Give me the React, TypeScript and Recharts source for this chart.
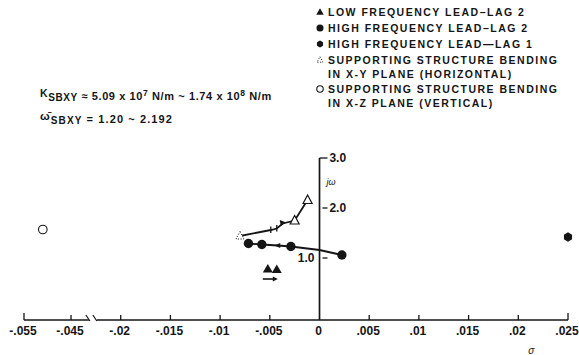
import React from 'react';
import { ComposedChart, Line, Scatter, XAxis, YAxis, ReferenceLine, ReferenceDot } from 'recharts';

const W = 579;
const H = 355;
const INK = '#151515';
const FONT = '"Liberation Sans", Arial, Helvetica, sans-serif';

// ---- axis ticks (real sigma values) and printed labels ----
const xTickValues = [-0.055, -0.045, -0.02, -0.015, -0.01, -0.005, 0, 0.005, 0.01, 0.015, 0.02, 0.025];
const xTickLabels = ['-.055', '-.045', '-.02', '-.015', '-.01', '-.005', '0', '.005', '.01', '.015', '.02', '.025'];
const yTickValues = [1, 2, 3];
const yTickLabels = ['1.0', '2.0', '3.0'];
const Y_AXIS_BASE = -0.24; // level where the sigma axis is drawn

// ---- series ----
// LOW FREQUENCY LEAD-LAG 2 (filled triangles) + direction arrow
const lowLL2X = [-0.0052, -0.0043];
const lowLL2Y = [0.78, 0.77];
const lowLL2ArrowX = [-0.0049];
const lowLL2ArrowY = [0.58];

// HIGH FREQUENCY LEAD-LAG 2 (filled circles)
const highLL2X = [-0.00715, -0.0058, -0.0042, -0.00288, 0, 0.00225];
const highLL2Y = [1.29, 1.27, 1.25, 1.23, 1.16, 1.06];
const highLL2Mark = ['dot', 'dot', 'arrowL', 'dot', 'none', 'dot'];

// HIGH FREQUENCY LEAD-LAG 1 (filled hexagon)
const highLL1X = [0.025];
const highLL1Y = [1.42];

// SUPPORTING STRUCTURE BENDING IN X-Y PLANE (open triangles)
const xyX = [-0.008, -0.0049, -0.0043, -0.0037, -0.0025, -0.0012];
const xyY = [1.44, 1.56, 1.59, 1.69, 1.75, 2.16];
const xyMark = ['triFaint', 'tick', 'tick', 'arrowR', 'tri', 'tri'];

// SUPPORTING STRUCTURE BENDING IN X-Z PLANE (open circle)
const xzX = [-0.051];
const xzY = [1.57];

// ---- legend / annotation text ----
const legendMarks = ['triFill', 'dot', 'hex', 'triFaint', 'circOpen'];
const legendLines = [
  ['LOW FREQUENCY LEAD\u2013LAG 2'],
  ['HIGH FREQUENCY LEAD\u2013LAG 2'],
  ['HIGH FREQUENCY LEAD\u2014LAG 1'],
  ['SUPPORTING STRUCTURE BENDING', 'IN X-Y PLANE (HORIZONTAL)'],
  ['SUPPORTING STRUCTURE BENDING', 'IN X-Z PLANE (VERTICAL)'],
];

// ---- broken axis: compressed left segment ----
const LEFT_ANCHOR_X = -0.045;
const LEFT_ANCHOR_U = -0.025;
const LEFT_SCALE = 0.473;
const toU = (x: number) => (x <= -0.03 ? LEFT_ANCHOR_U + (x - LEFT_ANCHOR_X) * LEFT_SCALE : x);
const U_MIN = toU(-0.055);
const U_MAX = 0.025;
const BREAK_L = toU(-0.0412);
const BREAK_R = -0.0224;
const tickU = xTickValues.map(toU);

const lowLL2Data = [
  ...lowLL2X.map((x, i) => ({ u: toU(x), y: lowLL2Y[i], kind: 'triFill' })),
  ...lowLL2ArrowX.map((x, i) => ({ u: toU(x), y: lowLL2ArrowY[i], kind: 'arrowLine' })),
];
const highLL2Data = highLL2X.map((x, i) => ({ u: toU(x), y: highLL2Y[i], kind: highLL2Mark[i] }));
const highLL1Data = highLL1X.map((x, i) => ({ u: toU(x), y: highLL1Y[i], kind: 'hex' }));
const xyData = xyX.map((x, i) => ({ u: toU(x), y: xyY[i], kind: xyMark[i] }));
const xzData = xzX.map((x, i) => ({ u: toU(x), y: xzY[i], kind: 'circOpen' }));

const TICK_MARGIN = 6;

function Marker({ kind, cx, cy, s = 1 }: { kind: string; cx: number; cy: number; s?: number }) {
  if (cx == null || cy == null) return <g />;
  switch (kind) {
    case 'dot':
      return <circle cx={cx} cy={cy} r={4.7 * s} fill={INK} />;
    case 'hex': {
      const r = 4.7 * s;
      const pts = [0, 1, 2, 3, 4, 5]
        .map((k) => {
          const a = (Math.PI / 3) * k + Math.PI / 6;
          return `${cx + r * Math.cos(a)},${cy + r * Math.sin(a)}`;
        })
        .join(' ');
      return <polygon points={pts} fill={INK} />;
    }
    case 'circOpen':
      return <circle cx={cx} cy={cy} r={4.3 * s} fill="#fff" stroke={INK} strokeWidth={1.1} />;
    case 'tri':
      return (
        <polygon
          points={`${cx},${cy - 5 * s} ${cx + 4.5 * s},${cy + 3.5 * s} ${cx - 4.5 * s},${cy + 3.5 * s}`}
          fill="#fff"
          stroke={INK}
          strokeWidth={1.2}
        />
      );
    case 'triFaint':
      return (
        <polygon
          points={`${cx},${cy - 4.5 * s} ${cx + 4 * s},${cy + 3 * s} ${cx - 4 * s},${cy + 3 * s}`}
          fill="#fff"
          stroke={INK}
          strokeWidth={0.9}
          strokeDasharray="1.2 1.5"
        />
      );
    case 'triFill':
      return (
        <polygon
          points={`${cx},${cy - 5 * s} ${cx + 5 * s},${cy + 3.5 * s} ${cx - 5 * s},${cy + 3.5 * s}`}
          fill={INK}
        />
      );
    case 'tick':
      return <line x1={cx} x2={cx} y1={cy - 3.5} y2={cy + 3} stroke={INK} strokeWidth={1.3} />;
    case 'arrowR':
      return <polygon points={`${cx + 3.5},${cy - 1} ${cx - 3},${cy - 3.5} ${cx - 2},${cy + 2.5}`} fill={INK} />;
    case 'arrowL':
      return <polygon points={`${cx - 3.5},${cy} ${cx + 2.5},${cy - 2.5} ${cx + 2.5},${cy + 2.5}`} fill={INK} />;
    case 'arrowLine':
      return (
        <g>
          <line x1={cx - 8} x2={cx + 3} y1={cy} y2={cy} stroke={INK} strokeWidth={1.6} />
          <polygon points={`${cx + 7},${cy} ${cx + 2},${cy - 2.5} ${cx + 2},${cy + 2.5}`} fill={INK} />
        </g>
      );
    default:
      return <g />;
  }
}

const XTick = (props: any) => {
  const { x, y, payload } = props;
  const i = tickU.findIndex((t) => Math.abs(t - payload.value) < 1e-9);
  if (i < 0) return <g />;
  const axisY = y - TICK_MARGIN;
  const isEnd = i === 0 || i === tickU.length - 1;
  const isZero = xTickValues[i] === 0;
  return (
    <g>
      {!isZero && (
        <line x1={x} x2={x} y1={axisY} y2={axisY - (isEnd ? 7 : 5)} stroke={INK} strokeWidth={1.3} />
      )}
      <text
        x={x - 1}
        y={y}
        dy="0.71em"
        textAnchor="middle"
        fill={INK}
        fontFamily={FONT}
        fontSize={12}
        fontWeight={700}
      >
        {xTickLabels[i]}
      </text>
    </g>
  );
};

const textLabel =
  (txt: string, anchor: 'start' | 'end' | 'middle', dx: number, opts: any = {}) =>
  (props: any) => {
    const vb = props.viewBox || {};
    return (
      <text
        x={vb.x + dx}
        y={vb.y}
        textAnchor={anchor}
        dominantBaseline="central"
        fill={INK}
        fontFamily={FONT}
        fontSize={opts.fontSize || 12}
        fontWeight={opts.fontWeight || 700}
        fontStyle={opts.fontStyle || 'normal'}
      >
        {txt}
      </text>
    );
  };

const yLabelSide = ['left', 'right', 'right'];

export default function App() {
  const lineProps = { stroke: INK, strokeWidth: 1.8, isAnimationActive: false, activeDot: false as any, type: 'linear' as const };
  return (
    <div style={{ position: 'absolute', left: 0, top: 0, width: W, height: H, background: '#fff' }}>
      <ComposedChart width={W} height={H} margin={{ top: 158, right: 11, bottom: 0, left: 24 }}>
        <XAxis
          type="number"
          dataKey="u"
          domain={[U_MIN, U_MAX]}
          ticks={tickU}
          interval={0}
          height={35}
          axisLine={false}
          tickLine={false}
          tickSize={0}
          tickMargin={TICK_MARGIN}
          tick={<XTick />}
        />
        <YAxis type="number" dataKey="y" domain={[Y_AXIS_BASE, 3]} hide />

        {/* x axis line with break */}
        <ReferenceLine segment={[{ x: U_MIN, y: Y_AXIS_BASE }, { x: BREAK_L, y: Y_AXIS_BASE }]} stroke={INK} strokeWidth={1.6} ifOverflow="visible" />
        <ReferenceLine segment={[{ x: BREAK_R, y: Y_AXIS_BASE }, { x: U_MAX, y: Y_AXIS_BASE }]} stroke={INK} strokeWidth={1.6} ifOverflow="visible" />
        <ReferenceLine segment={[{ x: BREAK_L - 0.0003, y: Y_AXIS_BASE + 0.1 }, { x: BREAK_L + 0.0001, y: Y_AXIS_BASE - 0.02 }]} stroke={INK} strokeWidth={1.2} ifOverflow="visible" />
        <ReferenceLine segment={[{ x: BREAK_R - 0.0004, y: Y_AXIS_BASE + 0.1 }, { x: BREAK_R, y: Y_AXIS_BASE - 0.02 }]} stroke={INK} strokeWidth={1.2} ifOverflow="visible" />

        {/* jw axis through sigma = 0 */}
        <ReferenceLine segment={[{ x: 0, y: Y_AXIS_BASE }, { x: 0, y: 3 }]} stroke={INK} strokeWidth={1.7} ifOverflow="visible" />
        {yTickValues.map((v, i) => (
          <ReferenceLine
            key={'yt' + i}
            segment={[{ x: v === 3 ? 0 : 0.0003, y: v }, { x: 0.0008, y: v }]}
            stroke={INK}
            strokeWidth={1.3}
            ifOverflow="visible"
          />
        ))}
        {yTickValues.map((v, i) => (
          <ReferenceDot
            key={'yl' + i}
            x={yLabelSide[i] === 'left' ? -0.0005 : 0.001}
            y={v}
            r={0}
            fill="none"
            stroke="none"
            ifOverflow="visible"
            label={textLabel(yTickLabels[i], yLabelSide[i] === 'left' ? 'end' : 'start', 0)}
          />
        ))}
        <ReferenceDot
          x={0.0007}
          y={2.52}
          r={0}
          fill="none"
          stroke="none"
          ifOverflow="visible"
          label={textLabel('j\u03C9', 'start', 0, { fontSize: 9, fontWeight: 400, fontStyle: 'italic' })}
        />
        <ReferenceDot
          x={0.0213}
          y={-0.85}
          r={0}
          fill="none"
          stroke="none"
          ifOverflow="visible"
          label={textLabel('\u03C3', 'middle', 0, { fontSize: 10, fontWeight: 400, fontStyle: 'italic' })}
        />

        <Line data={xyData} dataKey="y" {...lineProps} dot={(p: any) => <Marker key={'xy' + p.index} kind={p.payload.kind} cx={p.cx} cy={p.cy} />} />
        <Line data={highLL2Data} dataKey="y" {...lineProps} dot={(p: any) => <Marker key={'h2' + p.index} kind={p.payload.kind} cx={p.cx} cy={p.cy} />} />
        <Scatter data={lowLL2Data} dataKey="y" isAnimationActive={false} shape={(p: any) => <Marker kind={p.payload.kind} cx={p.cx} cy={p.cy} />} />
        <Scatter data={highLL1Data} dataKey="y" isAnimationActive={false} shape={(p: any) => <Marker kind={p.payload.kind} cx={p.cx} cy={p.cy} />} />
        <Scatter data={xzData} dataKey="y" isAnimationActive={false} shape={(p: any) => <Marker kind={p.payload.kind} cx={p.cx} cy={p.cy} />} />
      </ComposedChart>

      <svg
        width={W}
        height={H}
        style={{ position: 'absolute', left: 0, top: 0, pointerEvents: 'none' }}
        fontFamily={FONT}
        fill={INK}
      >
        {(() => {
          const rows: any[] = [];
          const ys = [12, 28, 44, 60, 89];
          legendLines.forEach((lines, i) => {
            rows.push(<Marker key={'lm' + i} kind={legendMarks[i]} cx={320} cy={ys[i]} s={0.75} />);
            lines.forEach((t, j) => {
              rows.push(
                <text
                  key={'lt' + i + '-' + j}
                  x={328}
                  y={ys[i] + j * 14}
                  dominantBaseline="central"
                  fontSize={10.5}
                  fontWeight={700}
                  letterSpacing={1.5}
                >
                  {t}
                </text>
              );
            });
          });
          return rows;
        })()}
        <text x={40} y={100} fontSize={11} fontWeight={700} letterSpacing={0.6}>
          <tspan dy={-3} fontSize={10.5}>K</tspan>
          <tspan dy={4} fontSize={10}>SBXY</tspan>
          <tspan dy={-1}>{' \u2248 5.09 x 10'}</tspan>
          <tspan dy={-4} fontSize={8.5}>7</tspan>
          <tspan dy={4}>{' N/m ~ 1.74 x 10'}</tspan>
          <tspan dy={-4} fontSize={8.5}>8</tspan>
          <tspan dy={4}>{' N/m'}</tspan>
        </text>
        <text x={40} y={123} fontSize={11} fontWeight={700} letterSpacing={1.1}>
          <tspan dy={-3} fontSize={11.5}>{'\u03C9\u0304'}</tspan>
          <tspan dy={4} fontSize={10}>SBXY</tspan>
          <tspan dy={-1}>{' = 1.20 ~ 2.192'}</tspan>
        </text>
      </svg>
    </div>
  );
}
